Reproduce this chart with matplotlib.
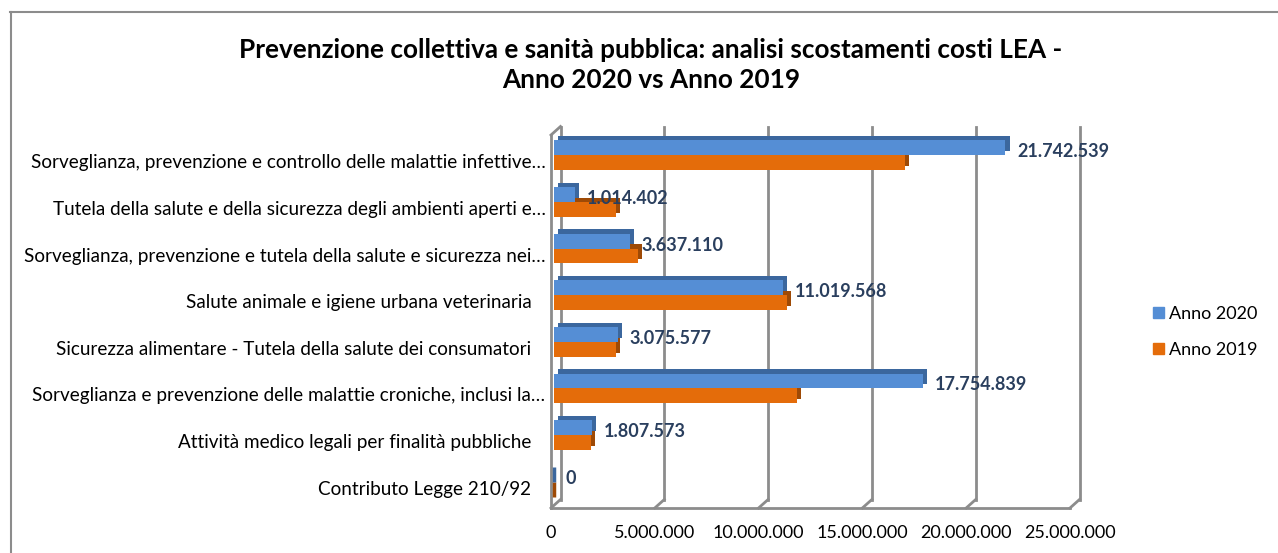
import numpy as np
import matplotlib.pyplot as plt
import matplotlib.patheffects as pe
import matplotlib.transforms as mtransforms
from matplotlib.lines import Line2D
from matplotlib.patches import Patch

plt.rcParams['font.family'] = ['Lato', 'DejaVu Sans']

# dati del grafico
categorie = [
    "Sorveglianza, prevenzione e controllo delle malattie infettive…",
    "Tutela della salute e della sicurezza degli ambienti aperti e…",
    "Sorveglianza, prevenzione e tutela della salute e sicurezza nei…",
    "Salute animale e igiene urbana veterinaria",
    "Sicurezza alimentare - Tutela della salute dei consumatori",
    "Sorveglianza e prevenzione delle malattie croniche, inclusi la…",
    "Attività medico legali per finalità pubbliche",
    "Contributo Legge 210/92",
]
anno_2020 = [21742539, 1014402, 3637110, 11019568, 3075577, 17754839, 1807573, 0]
anno_2019 = [16900000, 3000000, 4050000, 11230000, 3000000, 11690000, 1780000, 0]
tick_x = [0, 5000000, 10000000, 15000000, 20000000, 25000000]

def fmt_it(v):
    return f"{int(v):,}".replace(",", ".")

blu, blu_lato = '#558ED5', '#3B679E'
arancio, arancio_lato = '#E46C0A', '#9E4A06'
grigio = '#8C8C8C'
col_etichetta = '#2A3F5E'
fs = 13

W, H = 1278, 553
fig = plt.figure(figsize=(W / 100, H / 100), dpi=100)
ax = fig.add_axes([551 / W, 45 / H, 519 / W, 373 / H])
ax.set_xlim(0, 25000000)
ax.set_ylim(len(categorie) - 0.5, -0.5)
for s in ax.spines.values():
    s.set_visible(False)

# pareti 3D (griglia sul fondo)
dx = 9.5 / 519 * 25000000
dy = 8.5 / 373
tr = ax.get_xaxis_transform()
kw = dict(color=grigio, lw=2, transform=tr, clip_on=False, zorder=1)
for t in tick_x:
    ax.plot([t + dx, t + dx], [dy, 1 + dy], **kw)
    ax.plot([t, t + dx], [0, dy], **kw)
ax.plot([0, 25000000], [0, 0], **kw)
ax.plot([0, 0], [0, 1], **kw)
ax.plot([0, dx], [1, 1 + dy], **kw)

# barre
y = np.arange(len(categorie))
h = 0.32
shift = mtransforms.ScaledTranslation(3 / 100, 3 / 100, fig.dpi_scale_trans)
b19 = ax.barh(y + h / 2, anno_2019, height=h, color=arancio, zorder=3)
b20 = ax.barh(y - h / 2, anno_2020, height=h, color=blu, zorder=4)
for bars, lato in [(b19, arancio_lato), (b20, blu_lato)]:
    for b in bars:
        b.set_transform(ax.transData + shift)
        b.set_path_effects([pe.SimplePatchShadow(offset=(3, 3), shadow_rgbFace=lato, alpha=1),
                            pe.Normal()])
        if b.get_width() == 0:
            b.set_edgecolor(lato)
            b.set_linewidth(2.5)

for yi, v in zip(y, anno_2020):
    ax.annotate(fmt_it(v), xy=(v, yi - h / 2), xytext=(15, -1), textcoords='offset pixels',
                ha='left', va='center', fontsize=fs, fontweight='bold', color=col_etichetta,
                zorder=6)

ax.set_xticks(tick_x)
ax.set_xticklabels([fmt_it(t) for t in tick_x], fontsize=fs)
ax.set_yticks(y)
ax.set_yticklabels(categorie, fontsize=13.6)
ax.tick_params(axis='x', length=0, pad=12)
ax.tick_params(axis='y', length=0, pad=4)
for lab in ax.get_yticklabels():
    off = 0 if lab.get_text().endswith('…') else -14
    lab.set_transform(lab.get_transform() +
                      mtransforms.ScaledTranslation(off / 100, -3 / 100, fig.dpi_scale_trans))

fig.text(651 / W, 1 - 65 / H,
         "Prevenzione collettiva e sanità pubblica: analisi scostamenti costi LEA -\nAnno 2020 vs Anno 2019",
         ha='center', va='center', fontsize=18.8, fontweight='bold', linespacing=1.25)

handles = [Patch(color=blu), Patch(color=arancio)]
fig.legend(handles, ['Anno 2020', 'Anno 2019'], loc='center left',
           bbox_to_anchor=(1137 / W, 1 - 332 / H), frameon=False, fontsize=fs,
           handlelength=0.58, handleheight=0.58, handletextpad=0.3, labelspacing=1.1)

# bordo dell'area grafico
fig.add_artist(Line2D([10.5 / W, 10.5 / W], [0, 1 - 12 / H], color=grigio, lw=1.5))
fig.add_artist(Line2D([10 / W, 1], [1 - 12 / H, 1 - 12 / H], color=grigio, lw=1.5))

fig.savefig('out.png', dpi=100)
